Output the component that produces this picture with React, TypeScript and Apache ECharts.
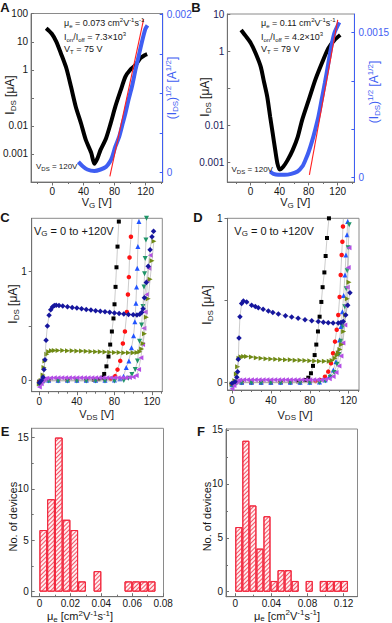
import React, { useEffect, useRef } from 'react';
import * as echarts from 'echarts';

type P = [number, number];

// ---------------- data ----------------
// Panel A: transfer curve (I_DS in µA, log) and sqrt(I_DS) in A^1/2
const aTransferLog: P[] = [[-8, 31], [-1, 20], [5, 10.3], [11, 3.9], [18, 1.15], [24, 0.25], [30, 0.05], [37, 0.012], [43, 0.0032], [50, 0.0011], [54, 0.00045], [58, 0.0007], [62, 0.0014], [69, 0.0036], [75, 0.0124], [81, 0.049], [88, 0.19], [94, 0.58], [100, 1.0], [107, 1.5], [113, 2.6], [119, 3.4], [122, 3.7]];
const aTransferSqrt: P[] = [[33.5, 0.000135], [39, 0.00008], [45, 0.000038], [54, 0.00002], [62, 0.000038], [69, 0.000071], [74, 0.000135], [77, 0.000198], [81, 0.000326], [86, 0.000453], [90, 0.0006], [94, 0.00075], [98, 0.00092], [102.5, 0.00109], [107, 0.0013], [111, 0.00147], [115, 0.00164], [119.5, 0.00181], [122.4, 0.00186]];
const aFit: P[] = [[74, -0.00005], [117.5, 0.00194]];

// Panel B
const bTransferLog: P[] = [[-13, 3.7], [-6, 2.44], [0.5, 1.61], [7, 0.87], [14, 0.38], [18, 0.164], [23, 0.058], [27, 0.0168], [30.5, 0.006], [34, 0.0021], [37, 0.00092], [40, 0.00063], [45, 0.00075], [51, 0.00113], [58, 0.0021], [65, 0.0048], [71, 0.0136], [80, 0.047], [89, 0.164], [98, 0.46], [107, 1.18], [115.5, 1.98], [123.5, 2.7]];
const bTransferSqrt: P[] = [[27, 0.000062], [31.5, 0.000038], [38, 0.000028], [47, 0.000028], [56, 0.000038], [64.7, 0.000062], [71.3, 0.000114], [75.7, 0.000183], [80.2, 0.000269], [84.6, 0.000373], [89, 0.000494], [93.5, 0.000631], [97.9, 0.000804], [102.3, 0.000977], [106.8, 0.001167], [111.2, 0.001356], [115.5, 0.001495], [122.2, 0.001604]];
const bFit: P[] = [[81, 0.000028], [120, 0.00163]];

// Panel C: output curves, VG = 0 ... 120 V
const cVg0: P[] = [[0, -0.01], [10, 0.004], [20, 0.004], [30, 0.004], [40, 0.004], [50, 0.005], [58, 0.008], [63, 0.012], [66.6, 0.025], [69.1, 0.06], [71.5, 0.13], [73.7, 0.22], [75.5, 0.33], [77.3, 0.45], [79, 0.57], [80.1, 0.7], [81.2, 0.86], [82.2, 1.04], [83.3, 1.23], [84.7, 1.46], [86, 1.6]];
const cVg20: P[] = [[0, -0.015], [10, 0.004], [20, 0.004], [30, 0.004], [40, 0.004], [50, 0.004], [60, 0.005], [70, 0.007], [76, 0.015], [80.8, 0.04], [83.3, 0.1], [86.2, 0.18], [89, 0.34], [91.2, 0.45], [93.3, 0.63], [94.4, 0.79], [95.4, 0.95], [96.1, 1.13], [97.6, 1.32], [99.5, 1.6]];
const cVg40: P[] = [[0, -0.02], [10, 0.002], [20, 0.002], [30, 0.002], [40, 0.002], [50, 0.002], [60, 0.002], [70, 0.003], [80, 0.005], [86, 0.015], [89.7, 0.04], [92.6, 0.12], [95.4, 0.18], [98.2, 0.3], [100.4, 0.41], [101.8, 0.54], [102.9, 0.71], [103.6, 0.86], [104.3, 1.03], [105, 1.23], [106.1, 1.46], [107, 1.6]];
const cVg60: P[] = [[0, -0.04], [5, -0.01], [10, -0.005], [20, -0.005], [30, -0.005], [40, -0.005], [50, -0.005], [60, -0.005], [70, -0.005], [80, -0.004], [90, 0.0], [95, 0.02], [98.6, 0.055], [102.2, 0.1], [104.6, 0.18], [106.8, 0.36], [108.9, 0.51], [110.4, 0.68], [111.5, 0.86], [112.1, 0.98], [112.8, 1.12], [113.6, 1.29], [114.2, 1.49], [115, 1.6]];
const cVg80: P[] = [[0, -0.06], [2, -0.03], [4, 0.0], [6, 0.015], [8, 0.02], [12, 0.024], [16, 0.025], [20, 0.025], [24, 0.025], [28, 0.025], [32, 0.025], [36, 0.025], [40, 0.025], [44, 0.025], [48, 0.025], [52, 0.025], [56, 0.025], [60, 0.025], [64, 0.025], [68, 0.025], [72, 0.025], [76, 0.025], [80, 0.025], [84, 0.025], [88, 0.025], [92, 0.026], [96, 0.028], [100, 0.032], [103.2, 0.045], [105.7, 0.1], [108.2, 0.21], [110, 0.33], [111.4, 0.48], [112.8, 0.63], [114.3, 0.79], [115.3, 0.92], [116.7, 1.03], [118.2, 1.15]];
const cVg100: P[] = [[0, -0.03], [2, 0.0], [4, 0.05], [5, 0.12], [6, 0.18], [8, 0.24], [10, 0.265], [13, 0.273], [16, 0.276], [20, 0.276], [25, 0.275], [30, 0.274], [35, 0.273], [40, 0.272], [45, 0.27], [50, 0.268], [55, 0.266], [60, 0.265], [65, 0.263], [70, 0.262], [75, 0.26], [80, 0.258], [85, 0.257], [90, 0.255], [95, 0.254], [100, 0.254], [104, 0.256], [107, 0.265], [109, 0.29], [110.5, 0.34], [112, 0.43], [114, 0.58], [116, 0.75], [118, 0.93], [120, 1.1], [122, 1.28]];
const cVg120: P[] = [[0, -0.02], [2, 0.0], [4, 0.03], [5, 0.1], [6, 0.19], [7.2, 0.37], [8.6, 0.5], [10.4, 0.6], [12.2, 0.65], [14, 0.675], [16, 0.688], [18, 0.692], [21, 0.69], [25, 0.684], [30, 0.677], [35, 0.671], [40, 0.665], [45, 0.659], [50, 0.653], [55, 0.647], [60, 0.641], [65, 0.636], [70, 0.631], [75, 0.626], [80, 0.621], [85, 0.616], [90, 0.611], [95, 0.607], [100, 0.603], [104, 0.602], [107, 0.608], [109, 0.625], [110.5, 0.66], [112, 0.76], [114, 0.9], [116, 1.05], [118, 1.2], [120, 1.32], [121.7, 1.37]];

// Panel D
const dVg0: P[] = [[0, -0.01], [10, 0.0], [20, 0.0], [30, 0.0], [40, 0.0], [50, 0.002], [60, 0.003], [68, 0.006], [75.1, 0.014], [78.5, 0.028], [81.2, 0.055], [83.3, 0.1], [85, 0.166], [86.7, 0.23], [88.4, 0.31], [90.1, 0.4], [91.9, 0.49], [93.2, 0.58], [95, 0.67], [96.3, 0.77], [97.7, 0.88], [99.7, 1.0], [101, 1.08]];
const dVg20: P[] = [[0, -0.012], [10, 0.0], [20, 0.0], [30, 0.0], [40, 0.0], [50, 0.0], [60, 0.0], [70, 0.0], [80, 0.002], [86, 0.008], [90.5, 0.014], [95.6, 0.034], [99, 0.065], [101.8, 0.116], [103.9, 0.177], [105.9, 0.248], [107.7, 0.32], [109.3, 0.41], [110.7, 0.52], [111.8, 0.654], [112.8, 0.776], [113.5, 0.857], [114.1, 0.95], [115, 1.05]];
const dVg40: P[] = [[0, -0.015], [10, 0.0], [20, 0.0], [30, 0.0], [40, 0.0], [50, 0.0], [60, 0.0], [70, 0.0], [80, 0.0], [90, 0.002], [95.6, 0.014], [100.8, 0.04], [104.2, 0.075], [106.9, 0.126], [109, 0.187], [110.7, 0.258], [112.1, 0.34], [113.5, 0.43], [114.8, 0.53], [116.2, 0.654], [117.2, 0.776], [118.3, 0.9], [119, 0.98], [119.8, 1.05]];
const dVg60: P[] = [[0, -0.02], [5, -0.006], [10, -0.003], [20, -0.003], [30, -0.003], [40, -0.003], [50, -0.003], [60, -0.003], [70, -0.003], [80, -0.003], [90, -0.002], [96, 0.01], [101, 0.03], [105, 0.06], [108, 0.11], [110, 0.17], [112, 0.25], [114, 0.34], [116, 0.46], [117.5, 0.57], [118.5, 0.68], [119.5, 0.82], [120.5, 0.96]];
const dVg80: P[] = [[0, -0.04], [2, -0.02], [4, 0.0], [6, 0.01], [8, 0.014], [12, 0.015], [16, 0.015], [20, 0.015], [24, 0.015], [28, 0.015], [32, 0.015], [36, 0.015], [40, 0.015], [44, 0.015], [48, 0.015], [52, 0.015], [56, 0.015], [60, 0.015], [64, 0.015], [68, 0.015], [72, 0.015], [76, 0.015], [80, 0.015], [84, 0.015], [88, 0.015], [92, 0.016], [96, 0.018], [100, 0.022], [104, 0.035], [107, 0.06], [110, 0.1], [112, 0.16], [114, 0.24], [116, 0.35], [117.5, 0.47], [118.5, 0.58], [119.5, 0.7], [120.3, 0.82]];
const dVg100: P[] = [[0, -0.01], [3, 0.01], [4.5, 0.05], [5.8, 0.095], [7.2, 0.146], [9, 0.156], [12, 0.158], [15, 0.157], [20, 0.154], [25, 0.149], [30, 0.146], [35, 0.144], [40, 0.142], [45, 0.14], [50, 0.139], [55, 0.138], [60, 0.137], [65, 0.135], [70, 0.134], [75, 0.133], [80, 0.131], [85, 0.13], [90, 0.129], [95, 0.128], [100, 0.129], [103, 0.133], [105.9, 0.146], [108, 0.165], [109.3, 0.18], [111, 0.2], [112.7, 0.23], [114.8, 0.31], [116.9, 0.41], [118.6, 0.51], [120.3, 0.61]];
const dVg120: P[] = [[0, -0.006], [3.1, 0.004], [5, 0.03], [5.8, 0.065], [6.5, 0.14], [7.2, 0.27], [8.2, 0.4], [9.9, 0.48], [11.7, 0.496], [15.1, 0.49], [20.2, 0.47], [24, 0.462], [27.1, 0.455], [32, 0.445], [37.4, 0.435], [42, 0.425], [47.7, 0.416], [55, 0.406], [61.4, 0.398], [68, 0.39], [75.1, 0.382], [82, 0.376], [88.7, 0.37], [94, 0.366], [99, 0.363], [104, 0.362], [109.3, 0.362], [112, 0.365], [114.4, 0.37], [116.9, 0.41], [119, 0.47], [121.3, 0.546]];

// Panels E, F: mobility histograms
const eBinStart = [0, 0.005, 0.01, 0.015, 0.02, 0.025, 0.03, 0.035, 0.04, 0.045, 0.05, 0.055, 0.06, 0.065, 0.07];
const eCounts = [6, 9, 15, 7, 6, 1, 0, 2, 0, 0, 0, 1, 1, 1, 1];
const eBinWidth = 0.005;
const fBinStart = [0, 0.0078, 0.0156, 0.0234, 0.0312, 0.039, 0.0468, 0.0546, 0.0624, 0.0702, 0.078, 0.0858, 0.0936, 0.1014, 0.1092, 0.117];
const fCounts = [6, 14, 8, 4, 7, 1, 2, 2, 1, 0, 1, 0, 1, 1, 1, 1];
const fBinWidth = 0.0078;

// tick values / labels
const transferXLabels = [0, 40, 80, 120];
const transferXMinor = [-20, 20, 60, 100, 140];
const aRightTicks = [0, 0.0005, 0.001, 0.0015, 0.002];
const aRightLabels = [0, 0.002];
const bRightTicks = [0, 0.0005, 0.001, 0.0015];
const bRightLabels = [0, 0.0015];
const outputXLabels = [0, 40, 80, 120];
const outputXMinor = [10, 20, 30, 50, 60, 70, 90, 100, 110, 130];
const outputYTicks = [0, 0.5, 1];
const outputYLabels = [0, 1];
const eXLabels = [0, 0.02, 0.04, 0.06, 0.08];
const eXMinor = [0.01, 0.03, 0.05, 0.07];
const fXLabels = [0, 0.04, 0.08, 0.12];
const fXMinor = [0.02, 0.06, 0.1];
const histYLabels = [0, 5, 10, 15];
const histYMinor = [2.5, 7.5, 12.5];

// ---------------- styling ----------------
const FONT = "'Liberation Sans', Arial, Helvetica, sans-serif";
const BLUE = '#3f5ef2';
const AXIS = '#707070';
const INK = '#161616';

const fmtNum = (v: number) => String(+(+v).toFixed(4));

function xMain(grid: number, min: number, max: number, ticks: number[], labels: number[], margin: number, inside = false) {
  return {
    type: 'value', gridIndex: grid, min, max, position: 'bottom',
    axisLine: { show: true, onZero: false, lineStyle: { color: AXIS, width: 1 } },
    axisTick: { show: true, inside, length: 3.5, customValues: ticks, lineStyle: { color: AXIS, width: 1 } },
    axisLabel: { show: true, customValues: labels, margin, fontSize: 10, color: INK, fontFamily: FONT, formatter: fmtNum },
    splitLine: { show: false },
  };
}
function xMinor(grid: number, min: number, max: number, ticks: number[], inside = false) {
  return {
    type: 'value', gridIndex: grid, min, max, position: 'bottom',
    axisLine: { show: false, onZero: false },
    axisTick: { show: true, inside, length: 2, customValues: ticks, lineStyle: { color: AXIS, width: 1 } },
    axisLabel: { show: false }, splitLine: { show: false },
  };
}
function yVal(grid: number, min: number, max: number, ticks: number[], labels: number[], margin: number, inside: boolean, pos = 'left', color = AXIS, labelColor = INK, fmt: any = fmtNum, tickLen = 3) {
  return {
    type: 'value', gridIndex: grid, min, max, position: pos,
    axisLine: { show: true, onZero: false, lineStyle: { color, width: 1 } },
    axisTick: { show: true, inside, length: tickLen, customValues: ticks, lineStyle: { color, width: 1 } },
    axisLabel: labels.length ? { show: true, customValues: labels, margin, fontSize: 10, color: labelColor, fontFamily: FONT, formatter: fmt } : { show: false },
    splitLine: { show: false },
  };
}
const logFmt = (hide: number[]) => (v: number) => {
  const e = Math.log10(v);
  const r = Math.round(e);
  if (Math.abs(e - r) > 0.02 || hide.includes(r)) return '';
  return r >= 0 ? String(Math.pow(10, r)) : Math.pow(10, r).toFixed(-r);
};
function yLog(grid: number, min: number, max: number, hide: number[], labelColor: string) {
  return {
    type: 'log', logBase: 10, gridIndex: grid, min, max, position: 'left',
    axisLine: { show: true, onZero: false, lineStyle: { color: AXIS, width: 1 } },
    axisTick: { show: true, inside: true, length: 3, lineStyle: { color: AXIS, width: 1 } },
    axisLabel: { show: true, margin: 3, fontSize: 10, color: labelColor, fontFamily: FONT, formatter: logFmt(hide), showMinLabel: true, showMaxLabel: true },
    splitLine: { show: false }, minorTick: { show: false },
  };
}

const OUT_STYLES = [
  { symbol: 'rect', rot: 0, color: '#000000', size: 4 },
  { symbol: 'circle', rot: 0, color: '#ff1414', size: 4.5 },
  { symbol: 'triangle', rot: 0, color: '#2255ff', size: 5 },
  { symbol: 'triangle', rot: 180, color: '#1f9468', size: 5 },
  { symbol: 'triangle', rot: 90, color: '#b44ee6', size: 5 },
  { symbol: 'triangle', rot: -90, color: '#6f8a14', size: 5 },
  { symbol: 'diamond', rot: 0, color: '#16169e', size: 5.5 },
];
function outSeries(xi: number, yi: number, sets: P[][]) {
  return sets.map((data, i) => {
    const st = OUT_STYLES[i];
    return {
      type: 'line', xAxisIndex: xi, yAxisIndex: yi, data,
      symbol: st.symbol, symbolRotate: st.rot, symbolSize: st.size, showSymbol: true, showAllSymbol: true,
      itemStyle: { color: st.color }, lineStyle: { color: '#aaaaaa', width: 0.6 }, clip: true,
      emphasis: { disabled: true }, z: 2 + i,
    };
  });
}
function histSeries(xi: number, yi: number, starts: number[], counts: number[], width: number, barPx: number) {
  const data = starts.map((s, i) => [s + width / 2, counts[i]]).filter((d) => d[1] > 0);
  return {
    type: 'bar', xAxisIndex: xi, yAxisIndex: yi, data, barWidth: barPx,
    itemStyle: {
      color: '#ffeef0', borderColor: '#f2283e', borderWidth: 1,
      decal: { symbol: 'rect', symbolSize: 1, color: 'rgba(238,48,70,0.8)', dashArrayX: [1, 0], dashArrayY: [0.9, 1.7], rotation: -Math.PI / 4 },
    },
    emphasis: { disabled: true },
  };
}

function richSet(fs: number, color: string) {
  const sm = Math.round(fs * 0.7);
  return {
    n: { fontSize: fs, fontFamily: FONT, color, lineHeight: fs + 3, verticalAlign: 'middle' },
    b: { fontSize: fs, fontFamily: FONT, color, fontWeight: 'bold', lineHeight: fs + 3, verticalAlign: 'middle' },
    s: { fontSize: sm, fontFamily: FONT, color, verticalAlign: 'bottom' },
    p: { fontSize: sm, fontFamily: FONT, color, verticalAlign: 'top' },
  };
}
function T(x: number, y: number, text: string, fs: number, align = 'left', color = INK, rot = 0) {
  return {
    type: 'text', x, y, rotation: rot, z: 50,
    style: { text, rich: richSet(fs, color), fill: color, fontSize: fs, fontFamily: FONT, align, verticalAlign: 'middle', textAlign: align, textVerticalAlign: 'middle' },
  };
}
const R = Math.PI / 2;

const IDS = '{n|I}{s|DS}{n| [μA]}';
const SQRT = '{n|(I}{s|DS}{n|)}{p|1/2}{n| [A}{p|1/2}{n|]}';
const MU = '{n|μ}{s|e}{n| [cm}{p|2}{n|V}{p|-1}{n|s}{p|-1}{n|]}';
const VG = '{n|V}{s|G}{n| [V]}';
const VDS = '{n|V}{s|DS}{n| [V]}';

function buildOption() {
  const grids = [
    { left: 29, top: 13.5, width: 133.7, height: 168.5 },
    { left: 227.3, top: 14, width: 131.7, height: 168 },
    { left: 31.7, top: 218.3, width: 130.6, height: 173.4 },
    { left: 227.5, top: 218.3, width: 131.5, height: 171.7 },
    { left: 31.7, top: 428.3, width: 131.8, height: 168.4 },
    { left: 226, top: 429, width: 131.5, height: 167.7 },
  ].map((g) => ({ ...g, show: true, borderColor: '#8a8a8a', borderWidth: 1, backgroundColor: 'transparent', containLabel: false }));

  const xAxis = [
    xMain(0, -27.5, 142, transferXLabels, transferXLabels, 4), xMinor(0, -27.5, 142, transferXMinor),
    xMain(1, -32, 143, transferXLabels, transferXLabels, 4), xMinor(1, -32, 143, transferXMinor),
    xMain(2, -8.1, 131, outputXLabels, outputXLabels, 5), xMinor(2, -8.1, 131, outputXMinor),
    xMain(3, -4.6, 130.6, outputXLabels, outputXLabels, 5), xMinor(3, -4.6, 130.6, outputXMinor),
    xMain(4, -0.005, 0.0802, eXLabels, eXLabels, 2, true), xMinor(4, -0.005, 0.0802, eXMinor, true),
    xMain(5, -0.0103, 0.1354, fXLabels, fXLabels, 2, true), xMinor(5, -0.0103, 0.1354, fXMinor, true),
  ];
  const rightFmt = (v: number) => (Math.abs(v) < 1e-9 ? '0' : String(+(+v).toFixed(5)));
  const yAxis = [
    yLog(0, 1e-4, 104, [-1, -4], INK),
    yVal(0, -0.00012, 0.00201, aRightTicks, aRightLabels, 4, true, 'right', BLUE, BLUE, rightFmt),
    yLog(1, 2.9e-4, 10, [-1], '#20205a'),
    yVal(1, -0.0000466, 0.00169, bRightTicks, bRightLabels, 4, true, 'right', BLUE, BLUE, rightFmt),
    yVal(2, -0.103, 1.49, outputYTicks, outputYLabels, 5, false),
    yVal(3, -0.047, 1.0, outputYTicks, outputYLabels, 5, false),
    yVal(4, -0.49, 15.9, histYLabels, histYLabels, 3, true),
    yVal(4, -0.49, 15.9, histYMinor, [], 3, true, 'left', AXIS, INK, fmtNum, 2),
    yVal(5, -0.46, 15.09, histYLabels, histYLabels, 3, true),
    yVal(5, -0.46, 15.09, histYMinor, [], 3, true, 'left', AXIS, INK, fmtNum, 2),
  ];

  const series: any[] = [
    { type: 'line', xAxisIndex: 0, yAxisIndex: 0, data: aTransferLog, symbol: 'none', smooth: 0.25, lineStyle: { color: '#000', width: 4 }, z: 3 },
    { type: 'line', xAxisIndex: 0, yAxisIndex: 1, data: aTransferSqrt, symbol: 'none', smooth: 0.25, lineStyle: { color: BLUE, width: 4 }, z: 4 },
    { type: 'line', xAxisIndex: 0, yAxisIndex: 1, data: aFit, symbol: 'none', lineStyle: { color: '#ff2020', width: 1.1 }, z: 5 },
    { type: 'line', xAxisIndex: 2, yAxisIndex: 2, data: bTransferLog, symbol: 'none', smooth: 0.25, lineStyle: { color: '#000', width: 4 }, z: 3 },
    { type: 'line', xAxisIndex: 2, yAxisIndex: 3, data: bTransferSqrt, symbol: 'none', smooth: 0.25, lineStyle: { color: BLUE, width: 4 }, z: 4 },
    { type: 'line', xAxisIndex: 2, yAxisIndex: 3, data: bFit, symbol: 'none', lineStyle: { color: '#ff2020', width: 1.1 }, z: 5 },
    ...outSeries(4, 4, [cVg0, cVg20, cVg40, cVg60, cVg80, cVg100, cVg120]),
    ...outSeries(6, 5, [dVg0, dVg20, dVg40, dVg60, dVg80, dVg100, dVg120]),
    histSeries(8, 6, eBinStart, eCounts, eBinWidth, 7.73),
    histSeries(10, 8, fBinStart, fCounts, fBinWidth, 7.04),
  ];

  const graphic = [
    T(5, 7, '{b|A}', 13, 'center'),
    T(196, 7, '{b|B}', 13, 'center'),
    T(5, 217.5, '{b|C}', 13, 'center'),
    T(198, 217.5, '{b|D}', 13, 'center'),
    T(5, 431, '{b|E}', 13, 'center'),
    T(201, 431.5, '{b|F}', 13, 'center'),
    T(64, 22.5, '{n|μ}{s|e}{n| = 0.073 cm}{p|2}{n|V}{p|-1}{n|s}{p|-1}', 9),
    T(64, 36.5, '{n|I}{s|on}{n|/I}{s|off}{n| = 7.3×10}{p|3}', 9),
    T(64, 49, '{n|V}{s|T}{n| = 75 V}', 9),
    T(36, 166.5, '{n|V}{s|DS}{n| = 120V}', 8),
    T(261, 22.5, '{n|μ}{s|e}{n| = 0.11 cm}{p|2}{n|V}{p|-1}{n|s}{p|-1}', 9),
    T(261, 36.5, '{n|I}{s|on}{n|/I}{s|off}{n| = 4.2×10}{p|3}', 9),
    T(261, 48.5, '{n|V}{s|T}{n| = 79 V}', 9),
    T(231.5, 169.5, '{n|V}{s|DS}{n| = 120V}', 8),
    T(34, 230.5, '{n|V}{s|G}{n| = 0 to +120V}', 11),
    T(234.3, 230.5, '{n|V}{s|G}{n| = 0 to +120V}', 11),
    T(96.7, 202, VG, 11, 'center'),
    T(295.3, 202, VG, 11, 'center'),
    T(96.7, 414, VDS, 11, 'center'),
    T(295, 414.5, VDS, 11, 'center'),
    T(80, 616, MU, 11, 'center'),
    T(287, 615.5, MU, 11, 'center'),
    T(10, 95, IDS, 12, 'center', INK, R),
    T(172, 88, SQRT, 12, 'center', BLUE, R),
    T(205.3, 97, IDS, 12, 'center', INK, R),
    T(374, 92, SQRT, 12, 'center', BLUE, R),
    T(13.3, 304, IDS, 12, 'center', INK, R),
    T(207, 305, IDS, 12, 'center', INK, R),
    T(13.3, 516.7, '{n|No. of devices}', 11, 'center', INK, R),
    T(207, 516.5, '{n|No. of devices}', 11, 'center', INK, R),
  ];

  return {
    animation: false,
    backgroundColor: '#ffffff',
    textStyle: { fontFamily: FONT },
    grid: grids,
    xAxis,
    yAxis,
    series,
    graphic,
  };
}

export default function App() {
  const ref = useRef<HTMLDivElement>(null);
  useEffect(() => {
    if (!ref.current) return;
    const chart = echarts.init(ref.current, undefined, { renderer: 'svg', width: 392, height: 623 });
    chart.setOption(buildOption() as any);
    return () => chart.dispose();
  }, []);
  return <div ref={ref} style={{ position: 'fixed', left: 0, top: 0, width: 392, height: 623, background: '#fff' }} />;
}
